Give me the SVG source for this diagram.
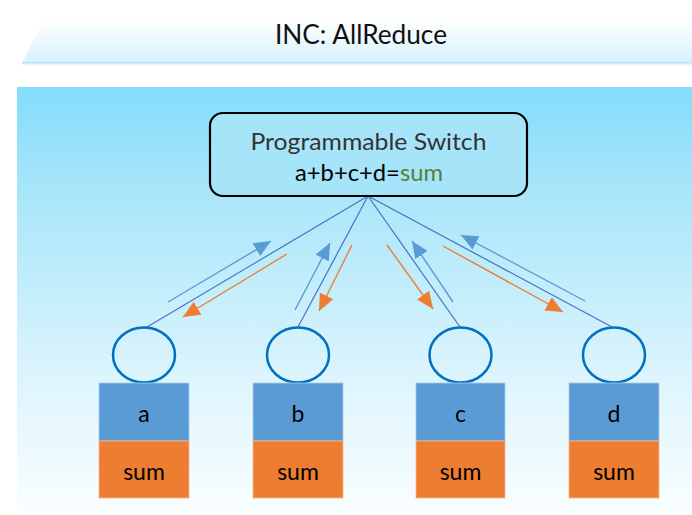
<svg xmlns="http://www.w3.org/2000/svg" width="692" height="515" viewBox="0 0 692 515">
  <defs>
    <linearGradient id="bandGrad" x1="0" y1="0" x2="0" y2="1">
      <stop offset="0" stop-color="#ffffff"/>
      <stop offset="1" stop-color="#d6f2fc"/>
    </linearGradient>
    <linearGradient id="lineGrad" x1="0" y1="0" x2="0" y2="1">
      <stop offset="0" stop-color="#9fe0f8"/>
      <stop offset="1" stop-color="#ffffff" stop-opacity="0"/>
    </linearGradient>
    <linearGradient id="panelGrad" x1="0" y1="0" x2="0" y2="1">
      <stop offset="0" stop-color="#84dcfb"/>
      <stop offset="0.25" stop-color="#a9e6fa"/>
      <stop offset="0.7" stop-color="#dff5fd"/>
      <stop offset="1" stop-color="#fafeff"/>
    </linearGradient>
    <marker id="headBlue" markerUnits="userSpaceOnUse" markerWidth="18" markerHeight="16" refX="17" refY="8" orient="auto">
      <path d="M0,0.5 L17,8 L0,15.5 Z" fill="#5b9bd5"/>
    </marker>
    <marker id="headOrange" markerUnits="userSpaceOnUse" markerWidth="18" markerHeight="16" refX="17" refY="8" orient="auto">
      <path d="M0,0.5 L17,8 L0,15.5 Z" fill="#ed7d31"/>
    </marker>
  </defs>
  <style>
    .t { font-family: Lato, "Open Sans", "Liberation Sans", sans-serif; }
    .link { stroke: #4472c4; stroke-width: 1.2; fill: none; }
    .up { stroke: #5b9bd5; stroke-width: 1.4; fill: none; marker-end: url(#headBlue); }
    .down { stroke: #ed7d31; stroke-width: 1.4; fill: none; marker-end: url(#headOrange); }
    .port { fill: none; stroke: #0070c0; stroke-width: 2.5; }
    .val { fill: #5b9bd5; stroke: #a9cdee; stroke-width: 0.8; }
    .sum { fill: #ed7d31; stroke: #f4b48a; stroke-width: 0.8; }
    .lbl { font-size: 23px; fill: #000; text-anchor: middle; }
  </style>

  <rect x="0" y="0" width="692" height="515" fill="#ffffff"/>

  <!-- title band -->
  <g id="title">
    <path d="M44,20 L692,20 L692,63 L22,63 Z" fill="url(#bandGrad)"/>
    <rect x="22" y="62" width="670" height="5" fill="url(#lineGrad)"/>
    <text class="t" x="361" y="44" font-size="26" text-anchor="middle" fill="#111" textLength="172" lengthAdjust="spacingAndGlyphs">INC: AllReduce</text>
  </g>

  <!-- main panel -->
  <rect x="17" y="87" width="675" height="428" fill="url(#panelGrad)"/>

  <!-- connectors -->
  <g id="connectors">
    <line class="link" x1="368" y1="196" x2="147" y2="327"/>
    <line class="link" x1="368" y1="196" x2="298" y2="327"/>
    <line class="link" x1="368" y1="196" x2="460" y2="327"/>
    <line class="link" x1="368" y1="196" x2="612" y2="327"/>

    <line class="up" x1="168" y1="302" x2="271" y2="241"/>
    <line class="down" x1="287" y1="254" x2="183" y2="317"/>

    <line class="up" x1="295" y1="310" x2="330" y2="243"/>
    <line class="down" x1="352" y1="245" x2="319" y2="311"/>

    <line class="down" x1="387" y1="245" x2="433" y2="309"/>
    <line class="up" x1="453" y1="302" x2="412" y2="241"/>

    <line class="down" x1="443" y1="246" x2="563" y2="312"/>
    <line class="up" x1="585" y1="301" x2="461" y2="235"/>
  </g>

  <!-- switch -->
  <g id="switch">
    <rect x="210" y="113" width="317" height="83" rx="13" ry="13" fill="#a6e4f9" stroke="#000" stroke-width="2.2"/>
    <text class="t" x="368.5" y="150" font-size="24" text-anchor="middle" fill="#333" textLength="236" lengthAdjust="spacingAndGlyphs">Programmable Switch</text>
    <text class="t" x="369" y="181" font-size="24" text-anchor="middle" fill="#000" textLength="148" lengthAdjust="spacingAndGlyphs">a+b+c+d=<tspan fill="#548235">sum</tspan></text>
  </g>

  <!-- workers -->
  <g id="worker-a">
    <ellipse class="port" cx="144" cy="355" rx="31" ry="27.5"/>
    <rect class="val" x="99" y="383" width="90" height="58"/>
    <rect class="sum" x="99" y="441" width="90" height="57"/>
    <text class="t lbl" x="144" y="422">a</text>
    <text class="t lbl" x="144" y="480">sum</text>
  </g>
  <g id="worker-b">
    <ellipse class="port" cx="298" cy="355" rx="31" ry="27.5"/>
    <rect class="val" x="253" y="383" width="90" height="58"/>
    <rect class="sum" x="253" y="441" width="90" height="57"/>
    <text class="t lbl" x="298" y="422">b</text>
    <text class="t lbl" x="298" y="480">sum</text>
  </g>
  <g id="worker-c">
    <ellipse class="port" cx="460.5" cy="355" rx="31" ry="27.5"/>
    <rect class="val" x="416" y="383" width="89" height="58"/>
    <rect class="sum" x="416" y="441" width="89" height="57"/>
    <text class="t lbl" x="460.5" y="422">c</text>
    <text class="t lbl" x="460.5" y="480">sum</text>
  </g>
  <g id="worker-d">
    <ellipse class="port" cx="614" cy="355" rx="31" ry="27.5"/>
    <rect class="val" x="569" y="383" width="90" height="58"/>
    <rect class="sum" x="569" y="441" width="90" height="57"/>
    <text class="t lbl" x="614" y="422">d</text>
    <text class="t lbl" x="614" y="480">sum</text>
  </g>
</svg>
